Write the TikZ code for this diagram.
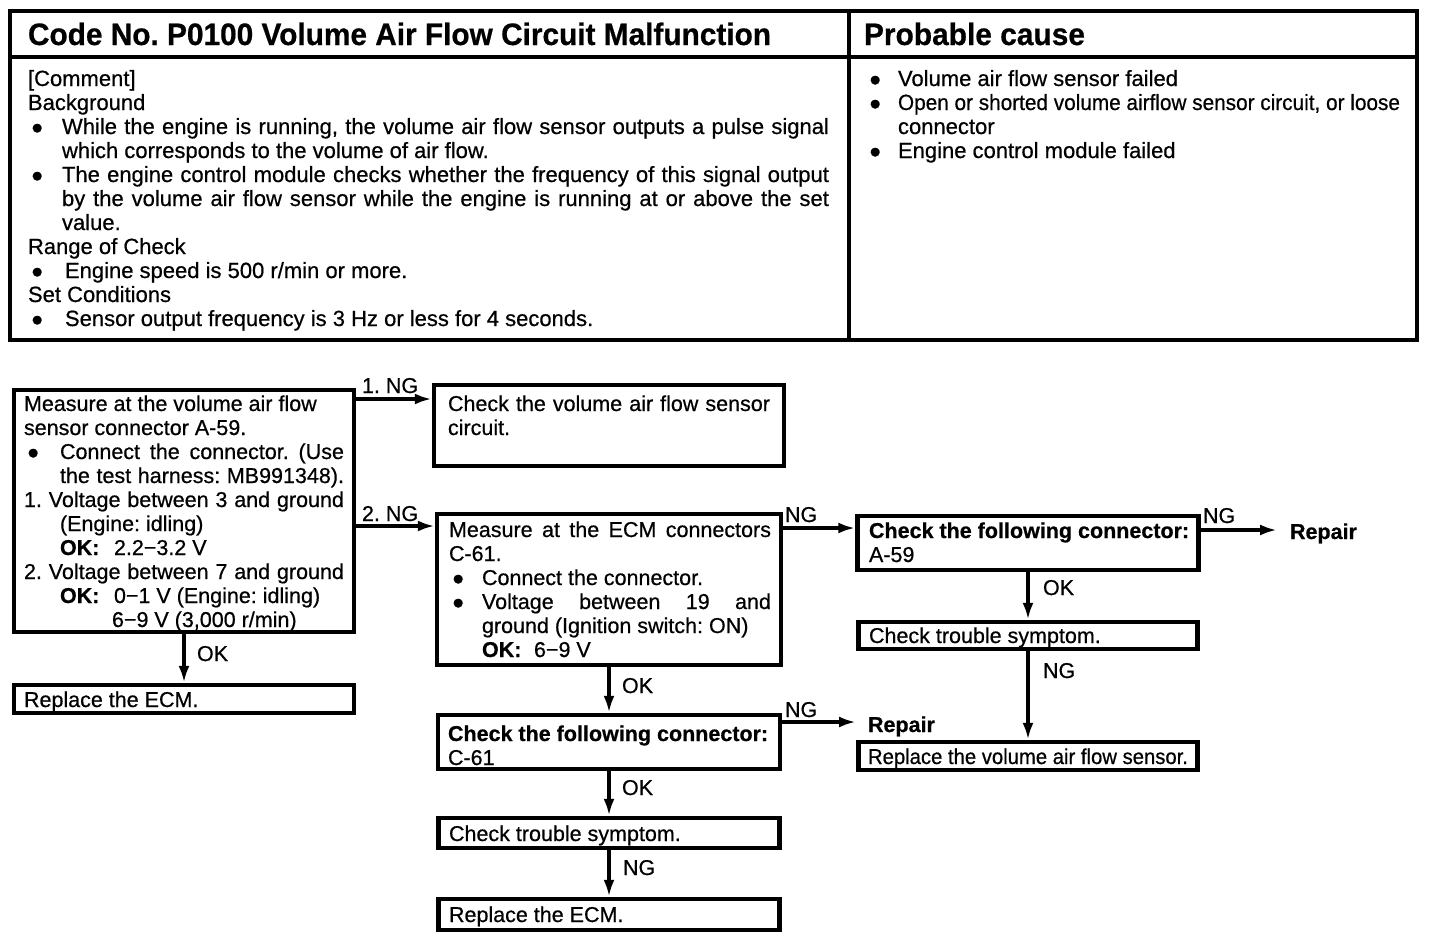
\documentclass[tikz,border=0pt]{standalone}
\usepackage{fontspec}
\setmainfont{Liberation Sans}[UprightFeatures={FakeBold=0.6}, BoldFeatures={FakeBold=0.6}]
\usepackage{graphicx}
\usetikzlibrary{arrows.meta}
\frenchspacing
\newcommand{\jl}[2]{\makebox[#1][s]{#2}}
\newcommand{\fitw}[2]{\resizebox{#1}{\height}{#2}}
\newcommand{\blt}[1]{\makebox[#1][l]{\hspace{3pt}{\fontsize{20.5}{22}\selectfont ●}}}
\begin{document}
\begin{tikzpicture}[x=1pt,y=-1pt,
  box/.style={draw, line width=4.5pt, rectangle, inner sep=0pt},
  txt/.style={inner sep=0pt, outer sep=0pt, anchor=base west, font=\fontsize{21.5}{24}\selectfont},
  ttxt/.style={txt, font=\fontsize{22}{24}\selectfont},
  head/.style={txt, font=\fontsize{31}{32}\selectfont\bfseries},
  bld/.style={txt, font=\fontsize{21.5}{24}\selectfont\bfseries},
  arr/.style={line width=4.5pt, -{Latex[length=17pt,width=11pt]}},
  rule/.style={line width=4.5pt},
]
\useasboundingbox (0,0) rectangle (1440,940);
\fill[white] (0,0) rectangle (1440,940);

% ---------- top table ----------
\draw[rule] (10,11) rectangle (1417,340);
\draw[rule] (10,57) -- (1417,57);
\draw[rule] (849,11) -- (849,340);

\node[head] (h1) at (28,45) {\fitw{743pt}{Code No. P0100 Volume Air Flow Circuit Malfunction}};
\node[head] (h2) at (864,45) {\fitw{221pt}{Probable cause}};

\node[ttxt] (comment) at (28,86) {\begin{tabular}[t]{@{}l@{}}
[Comment]\\
Background\\
\blt{34pt}\jl{767pt}{While the engine is running, the volume air flow sensor outputs a pulse signal}\\
\hspace*{34pt}which corresponds to the volume of air flow.\\
\blt{34pt}\jl{767pt}{The engine control module checks whether the frequency of this signal output}\\
\hspace*{34pt}\jl{767pt}{by the volume air flow sensor while the engine is running at or above the set}\\
\hspace*{34pt}value.\\
Range of Check\\
\blt{37pt}Engine speed is 500 r/min or more.\\
Set Conditions\\
\blt{37pt}Sensor output frequency is 3 Hz or less for 4 seconds.
\end{tabular}};

\node[ttxt] (cause) at (866,86) {\begin{tabular}[t]{@{}l@{}}
\blt{32pt}Volume air flow sensor failed\\
\blt{32pt}\fitw{502pt}{Open or shorted volume airflow sensor circuit, or loose}\\
\hspace*{32pt}connector\\
\blt{32pt}Engine control module failed
\end{tabular}};

% ---------- flowchart boxes ----------
\node[box, minimum width=340pt, minimum height=242pt] (A) at (184,511) {};
\node[box, minimum width=350pt, minimum height=81pt]  (B) at (609,425.5) {};
\node[box, minimum width=344pt, minimum height=151pt] (C) at (609,589.5) {};
\node[box, minimum width=341pt, minimum height=54pt]  (D) at (1028,543) {};
\node[box, minimum width=339pt, minimum height=27pt]  (E) at (1028,635.5) {};
\node[box, minimum width=339pt, minimum height=28pt]  (F) at (1028,756) {};
\node[box, minimum width=342pt, minimum height=54pt]  (G) at (609,742) {};
\node[box, minimum width=341pt, minimum height=30pt]  (H) at (609,833) {};
\node[box, minimum width=341pt, minimum height=31pt]  (I) at (609,914.5) {};
\node[box, minimum width=340pt, minimum height=28pt]  (J) at (184,699) {};

% ---------- box texts ----------
\node[txt] (tA) at (24,411) {\begin{tabular}[t]{@{}l@{}}
Measure at the volume air flow\\
sensor connector A-59.\\
\blt{36pt}\jl{284pt}{Connect the connector. (Use}\\
\hspace*{36pt}\jl{284pt}{the test harness: MB991348).}\\
\jl{320pt}{1. Voltage between 3 and ground}\\
\hspace*{36pt}(Engine: idling)\\
\hspace*{36pt}\makebox[54pt][l]{\textbf{OK:}}2.2−3.2 V\\
\jl{320pt}{2. Voltage between 7 and ground}\\
\hspace*{36pt}\makebox[54pt][l]{\textbf{OK:}}0−1 V (Engine: idling)\\
\hspace*{88pt}6−9 V (3,000 r/min)
\end{tabular}};

\node[txt] (tB) at (448,411) {\begin{tabular}[t]{@{}l@{}}
\jl{322pt}{Check the volume air flow sensor}\\
circuit.
\end{tabular}};

\node[txt] (tC) at (449,537) {\begin{tabular}[t]{@{}l@{}}
\jl{322pt}{Measure at the ECM connectors}\\
C-61.\\
\blt{33pt}Connect the connector.\\
\blt{33pt}\jl{289pt}{Voltage between 19 and}\\
\hspace*{33pt}ground (Ignition switch: ON)\\
\hspace*{33pt}\makebox[52pt][l]{\textbf{OK:}}6−9 V
\end{tabular}};

\node[txt] (tD) at (869,538) {\begin{tabular}[t]{@{}l@{}}
\textbf{Check the following connector:}\\
A-59
\end{tabular}};
\node[txt] (tE) at (869,643) {Check trouble symptom.};
\node[txt] (tF) at (868,764) {\fitw{320pt}{Replace the volume air flow sensor.}};
\node[txt] (tG) at (448,741) {\begin{tabular}[t]{@{}l@{}}
\textbf{Check the following connector:}\\
C-61
\end{tabular}};
\node[txt] (tH) at (449,841) {Check trouble symptom.};
\node[txt] (tI) at (449,922) {Replace the ECM.};
\node[txt] (tJ) at (24,707) {Replace the ECM.};

\node[bld] (rep1) at (1290,539) {Repair};
\node[bld] (rep2) at (868,732) {Repair};

% ---------- connectors ----------
\draw[arr] (A.east |- 0,399) -- (B.west |- 0,399);
\draw[arr] (A.east |- 0,526) -- (C.west |- 0,526);
\draw[arr] (C.east |- 0,528) -- (D.west |- 0,528);
\draw[arr, shorten >=13pt] (D.east |- 0,530) -- (rep1.west |- 0,530);
\draw[arr, shorten >=12pt] (G.east |- 0,722) -- (rep2.west |- 0,722);
\draw[arr] (A.south) -- (J.north);
\draw[arr] (C.south) -- (G.north);
\draw[arr] (G.south) -- (H.north);
\draw[arr] (H.south) -- (I.north);
\draw[arr] (D.south) -- (E.north);
\draw[arr] (E.south) -- (F.north);

% ---------- connector labels ----------
\node[txt] (l1) at (362,393) {1. NG};
\node[txt] (l2) at (362,521) {2. NG};
\node[txt] (l3) at (785,522) {NG};
\node[txt] (l4) at (1203,523) {NG};
\node[txt] (l5) at (1043,595) {OK};
\node[txt] (l6) at (1043,678) {NG};
\node[txt] (l7) at (785,717) {NG};
\node[txt] (l8) at (622,693) {OK};
\node[txt] (l9) at (622,795) {OK};
\node[txt] (l10) at (623,875) {NG};
\node[txt] (l11) at (197,661) {OK};
\end{tikzpicture}
\end{document}
